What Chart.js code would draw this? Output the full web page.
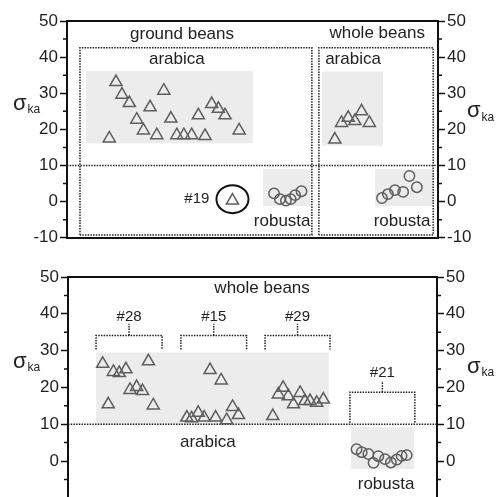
<!DOCTYPE html>
<html>
<head>
<meta charset="utf-8">
<script src="https://cdn.jsdelivr.net/npm/chart.js@4.4.1/dist/chart.umd.min.js"></script>
<style>
  html, body { margin: 0; padding: 0; background: #fff; overflow: hidden; width: 496px; height: 497px; }
  #topChart { position: absolute; left: 0; top: 0; }
  #bottomChart { position: absolute; left: 0; top: 250px; }
</style>
</head>
<body>
<canvas id="topChart" width="496" height="250"></canvas>
<canvas id="bottomChart" width="496" height="260"></canvas>
<script>
// ---- top panel: ground beans vs whole beans ----
const groundArabicaX = [11.4, 13.2, 14.8, 16.8, 18.8, 20.6, 22.4, 24.2, 26.1, 28.0, 29.6, 31.5, 33.6, 35.4, 37.2, 39.0, 40.8, 42.6, 46.4];
const groundArabicaY = [17.5, 33.1, 29.6, 27.3, 22.7, 19.7, 26.1, 18.4, 30.7, 23.0, 18.4, 18.4, 18.4, 23.9, 18.2, 27.0, 25.7, 23.9, 19.7];
const sample19X = [44.6];
const sample19Y = [0.3];
const groundRobustaX = [55.8, 57.4, 59.0, 60.3, 61.5, 63.2];
const groundRobustaY = [2.3, 0.7, 0.3, 0.7, 1.8, 2.9];
const wholeArabicaX = [72.2, 74.0, 75.8, 77.6, 79.4, 81.5];
const wholeArabicaY = [17.2, 21.8, 23.2, 22.3, 25.0, 21.8];
const wholeRobustaX = [84.9, 86.5, 88.4, 90.6, 92.3, 94.3];
const wholeRobustaY = [1.0, 2.1, 3.2, 2.7, 7.1, 4.0];

// shaded bands [x1, x2, yTop, yBottom] and dotted boxes
const topBands = [[5.1, 50.1, 36.2, 16.2], [68.7, 85.2, 36.0, 15.5], [52.8, 65.5, 9.0, -1.2], [83.0, 98.7, 9.0, -1.2]];
const topBoxes = [[3.5, 66.0, 42.6, -9.2], [67.9, 98.7, 42.6, -9.2]];

// ---- bottom panel: whole beans, repeated samples ----
const s28X = [9.4, 10.9, 12.3, 13.9, 15.7, 16.8, 18.6, 20.2, 21.8, 23.1];
const s28Y = [26.4, 15.4, 24.2, 23.9, 24.9, 19.3, 20.1, 19.0, 27.1, 15.1];
const s15X = [32.2, 33.5, 35.3, 36.9, 38.5, 40.0, 41.5, 43.0, 44.6, 46.2];
const s15Y = [11.8, 11.6, 13.1, 11.8, 24.7, 11.8, 21.9, 11.1, 14.7, 12.5];
const s29X = [55.5, 57.0, 58.3, 59.7, 61.1, 62.9, 64.2, 65.6, 67.4, 69.2];
const s29Y = [12.2, 18.1, 19.9, 17.6, 15.4, 18.5, 16.3, 16.3, 15.8, 16.7];
const s21X = [78.2, 79.6, 81.4, 82.8, 84.1, 85.9, 87.5, 89.1, 90.4, 91.8];
const s21Y = [3.2, 2.4, 1.9, -0.5, 1.3, 0.5, -0.4, 0.4, 1.4, 1.6];

const bottomBands = [[7.6, 70.7, 29.5, 10], [76.7, 93.8, 9.2, -2.2]];
// brackets: label, x1, x2, top, foot, stem top, label y
const brackets = [
  ['#28', 7.6, 25.5, 34.1, 30.3, 37.3, 39.3],
  ['#15', 30.6, 48.4, 34.1, 30.3, 37.3, 39.3],
  ['#29', 53.4, 71.0, 34.1, 30.3, 37.3, 39.3],
  ['#21', 76.4, 94.0, 18.7, 10.4, 21.7, 24.0]
];

const threshold = 10;
const topYTicks = [-10, 0, 10, 20, 30, 40, 50];
const bottomYTicks = [0, 10, 20, 30, 40, 50];

const FONT = '"Liberation Sans", Arial, sans-serif';
const MARK = '#5e5e5e';
const DOT = '#222';

const zip = (xs, ys) => xs.map((x, i) => ({ x: x, y: ys[i] }));

function pointSet(xs, ys, style) {
  return {
    type: 'scatter',
    data: zip(xs, ys),
    pointStyle: style,
    pointRadius: style === 'triangle' ? 7 : 5.2,
    backgroundColor: 'rgba(0,0,0,0)',
    borderColor: MARK,
    borderWidth: 1.5
  };
}

function dotted(points) {
  return {
    type: 'line',
    data: points,
    borderColor: DOT,
    borderWidth: 1.5,
    borderDash: [1.5, 1.2],
    pointRadius: 0,
    tension: 0,
    fill: false
  };
}

function band(b) {
  return {
    type: 'line',
    data: [{ x: b[0], y: b[2] }, { x: b[1], y: b[2] }],
    borderColor: 'rgba(0,0,0,0)',
    borderWidth: 0,
    pointRadius: 0,
    backgroundColor: '#ececec',
    fill: { value: b[3] }
  };
}

function box(b) {
  return dotted([
    { x: b[0], y: b[3] }, { x: b[0], y: b[2] }, { x: b[1], y: b[2] },
    { x: b[1], y: b[3] }, { x: b[0], y: b[3] }
  ]);
}

const panelPlugin = {
  id: 'panelText',
  afterDraw(chart, args, opts) {
    const { ctx, chartArea } = chart;
    const x = chart.scales.x, y = chart.scales.y;
    ctx.save();
    // minor ticks
    ctx.strokeStyle = '#111';
    ctx.lineWidth = 1.5;
    for (let v = -5; v < 50; v += 10) {
      const py = y.getPixelForValue(v);
      if (py > chartArea.bottom + 1) continue;
      ctx.beginPath();
      ctx.moveTo(chartArea.left - 4, py); ctx.lineTo(chartArea.left, py);
      ctx.moveTo(chartArea.right, py); ctx.lineTo(chartArea.right + 4, py);
      ctx.stroke();
    }
    // ellipses
    (opts.ellipses || []).forEach(e => {
      ctx.beginPath();
      ctx.lineWidth = 2;
      ctx.strokeStyle = '#111';
      ctx.ellipse(x.getPixelForValue(e.x), y.getPixelForValue(e.y), e.rx, e.ry, 0, 0, Math.PI * 2);
      ctx.stroke();
    });
    // labels
    ctx.fillStyle = '#222';
    ctx.textAlign = 'center';
    ctx.textBaseline = 'middle';
    (opts.labels || []).forEach(l => {
      ctx.font = l.size + 'px ' + FONT;
      ctx.fillText(l.text, x.getPixelForValue(l.x), y.getPixelForValue(l.y));
    });
    // axis titles: sigma with subscript "ka"
    ctx.textAlign = 'left';
    opts.titles.forEach(t => {
      const py = y.getPixelForValue(t.y);
      ctx.font = '22px ' + FONT;
      ctx.fillText('σ', t.px, py);
      const w = ctx.measureText('σ').width;
      ctx.font = '12px ' + FONT;
      ctx.fillText('ka', t.px + w + 1, py + 6);
    });
    ctx.restore();
  }
};

function makeOptions(padTop, padBottom, leftW, rightW, ticks, plugOpts, showBottom) {
  const yAxis = (pos, w) => ({
    type: 'linear',
    position: pos,
    min: -10,
    max: 50,
    afterBuildTicks: s => { s.ticks = ticks.map(v => ({ value: v })); },
    afterFit: s => { s.width = w; },
    ticks: { color: '#1e1e1e', padding: 2, font: { family: FONT, size: 17 } },
    grid: { display: true, drawOnChartArea: false, drawTicks: true, tickLength: 7, tickColor: '#111', tickWidth: 1.5 },
    border: { display: true, color: '#111', width: 2 }
  });
  const xAxis = (pos, show) => ({
    type: 'linear',
    position: pos,
    min: 0,
    max: 100,
    afterFit: s => { s.height = 0; },
    ticks: { display: false },
    grid: { display: false, drawTicks: false },
    border: { display: show, color: '#111', width: 2 }
  });
  return {
    responsive: false,
    animation: false,
    devicePixelRatio: 1,
    layout: { padding: { top: padTop, bottom: padBottom, left: 0, right: 0 } },
    scales: {
      x: xAxis('bottom', showBottom),
      x2: xAxis('top', true),
      y: yAxis('left', leftW),
      y2: yAxis('right', rightW)
    },
    plugins: { legend: { display: false }, tooltip: { enabled: false }, panelText: plugOpts }
  };
}

// top chart
new Chart(document.getElementById('topChart'), {
  type: 'scatter',
  data: {
    datasets: [
      pointSet(groundArabicaX, groundArabicaY, 'triangle'),
      pointSet(sample19X, sample19Y, 'triangle'),
      pointSet(groundRobustaX, groundRobustaY, 'circle'),
      pointSet(wholeArabicaX, wholeArabicaY, 'triangle'),
      pointSet(wholeRobustaX, wholeRobustaY, 'circle'),
      dotted([{ x: 0, y: threshold }, { x: 100, y: threshold }]),
      ...topBoxes.map(box),
      ...topBands.map(band)
    ]
  },
  options: makeOptions(21, 11, 67, 58, topYTicks, {
    labels: [
      { text: 'ground beans', x: 31.0, y: 46.4, size: 17 },
      { text: 'arabica', x: 29.6, y: 39.3, size: 17 },
      { text: 'whole beans', x: 83.6, y: 46.6, size: 17 },
      { text: 'arabica', x: 77.1, y: 39.3, size: 17 },
      { text: '#19', x: 35.0, y: 0.7, size: 15 },
      { text: 'robusta', x: 58.0, y: -5.3, size: 17 },
      { text: 'robusta', x: 90.3, y: -5.3, size: 17 }
    ],
    ellipses: [{ x: 44.6, y: 0.7, rx: 16, ry: 14 }],
    titles: [{ px: 13, y: 27 }, { px: 467, y: 25 }]
  }, true),
  plugins: [panelPlugin]
});

// bottom chart
const bracketSets = [];
const bracketLabels = [];
brackets.forEach(b => {
  const mid = (b[1] + b[2]) / 2;
  bracketSets.push(dotted([{ x: b[1], y: b[4] }, { x: b[1], y: b[3] }, { x: b[2], y: b[3] }, { x: b[2], y: b[4] }]));
  bracketSets.push(dotted([{ x: mid, y: b[3] }, { x: mid, y: b[5] }]));
  bracketLabels.push({ text: b[0], x: mid, y: b[6], size: 15 });
});

new Chart(document.getElementById('bottomChart'), {
  type: 'scatter',
  data: {
    datasets: [
      pointSet(s28X, s28Y, 'triangle'),
      pointSet(s15X, s15Y, 'triangle'),
      pointSet(s29X, s29Y, 'triangle'),
      pointSet(s21X, s21Y, 'circle'),
      dotted([{ x: 0, y: threshold }, { x: 100, y: threshold }]),
      ...bracketSets,
      ...bottomBands.map(band)
    ]
  },
  options: makeOptions(27, 11, 68, 59, bottomYTicks, {
    labels: [
      { text: 'whole beans', x: 52.6, y: 47.0, size: 17 },
      { text: 'arabica', x: 37.9, y: 5.1, size: 17 },
      { text: 'robusta', x: 86.2, y: -6.2, size: 17 },
      ...bracketLabels
    ],
    ellipses: [],
    titles: [{ px: 13, y: 27 }, { px: 467, y: 25.5 }]
  }, false),
  plugins: [panelPlugin]
});
</script>
</body>
</html>
